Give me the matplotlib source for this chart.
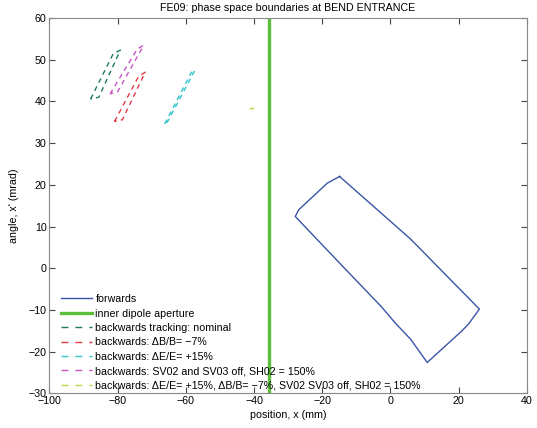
import matplotlib
matplotlib.use("Agg")
import matplotlib.pyplot as plt
from matplotlib.lines import Line2D

plt.rcParams['font.family'] = ['Liberation Sans', 'DejaVu Sans']

# forwards boundary
fwd_x = [-14.9, -18.5, -26.9, -27.9, -13.7, -2.9, 1.5, 5.9, 10.8, 21.0, 22.9, 26.1, 16.6, 8.8, 5.9, -14.9]
fwd_y = [22.0, 20.4, 14.0, 12.4, 0.2, -9.0, -13.2, -17.0, -22.6, -15.0, -13.4, -9.8, -1.9, 4.6, 7.0, 22.0]

# inner dipole aperture
aperture_x = -35.7
aperture_y = [-30, 60]

# backwards tracking boundaries (thin closed loops)
nom_x = [-87.9, -81.3, -79.2, -85.5, -87.9]
nom_y = [40.6, 51.4, 52.3, 41.0, 40.6]

db_x = [-80.9, -73.9, -71.9, -78.6, -80.9]
db_y = [35.2, 45.9, 47.0, 35.6, 35.2]

de_x = [-66.2, -58.4, -57.3, -65.3, -66.2]
de_y = [34.6, 46.9, 47.5, 35.2, 34.6]

sv_x = [-82.2, -74.2, -72.4, -80.0, -82.2]
sv_y = [41.8, 52.6, 53.4, 42.3, 41.8]

all_x = [-41.3, -39.7]
all_y = [38.2, 38.4]

labels = [
    "forwards",
    "inner dipole aperture",
    "backwards tracking: nominal",
    "backwards: \u0394B/B= \u22127%",
    "backwards: \u0394E/E= +15%",
    "backwards: SV02 and SV03 off, SH02 = 150%",
    "backwards: \u0394E/E= +15%, \u0394B/B= \u22127%, SV02 SV03 off, SH02 = 150%",
]

colors = ['#3a55a6', '#5cbf3c', '#1e7d55', '#e33a44', '#33c3cc', '#c555c5', '#c9d145']

FS = 7.7

fig = plt.figure(figsize=(5.37, 4.28), dpi=100)
ax = fig.add_axes([0.092, 0.081, 0.889, 0.877])

dash = (0, (3.5, 3))
ax.plot(fwd_x, fwd_y, color=colors[0], lw=1.0)
ax.plot([aperture_x, aperture_x], aperture_y, color=colors[1], lw=2.4)
for xs, ys, c in zip([nom_x, db_x, de_x, sv_x, all_x],
                     [nom_y, db_y, de_y, sv_y, all_y], colors[2:]):
    ax.plot(xs, ys, color=c, lw=1.0, linestyle=dash)

ax.set_xlim(-100, 40)
ax.set_ylim(-30, 60)
ax.set_xticks(range(-100, 41, 20))
ax.set_yticks(range(-30, 61, 10))
ax.tick_params(direction='in', top=True, right=True, labelsize=FS, length=4, width=0.8, colors='#444444', labelcolor='black', pad=2)
for s in ax.spines.values():
    s.set_color('#888888')
    s.set_linewidth(0.8)

ax.set_title("FE09: phase space boundaries at BEND ENTRANCE", fontsize=FS, pad=5)
ax.set_xlabel("position, x (mm)", fontsize=FS, labelpad=3)
ax.set_ylabel("angle, x' (mrad)", fontsize=FS, labelpad=7)

handles = [Line2D([], [], color=colors[0], lw=1.0),
           Line2D([], [], color=colors[1], lw=2.4)]
for c in colors[2:]:
    handles.append(Line2D([], [], color=c, lw=1.0, linestyle=(0, (5, 5))))

leg = ax.legend(handles, labels, loc='lower left', frameon=False, fontsize=FS, handlelength=2.9,
                handletextpad=0.3, labelspacing=0.41, borderaxespad=0.0, borderpad=0.2,
                bbox_to_anchor=(0.02, 0.002))

fig.savefig("out.png", dpi=100)
